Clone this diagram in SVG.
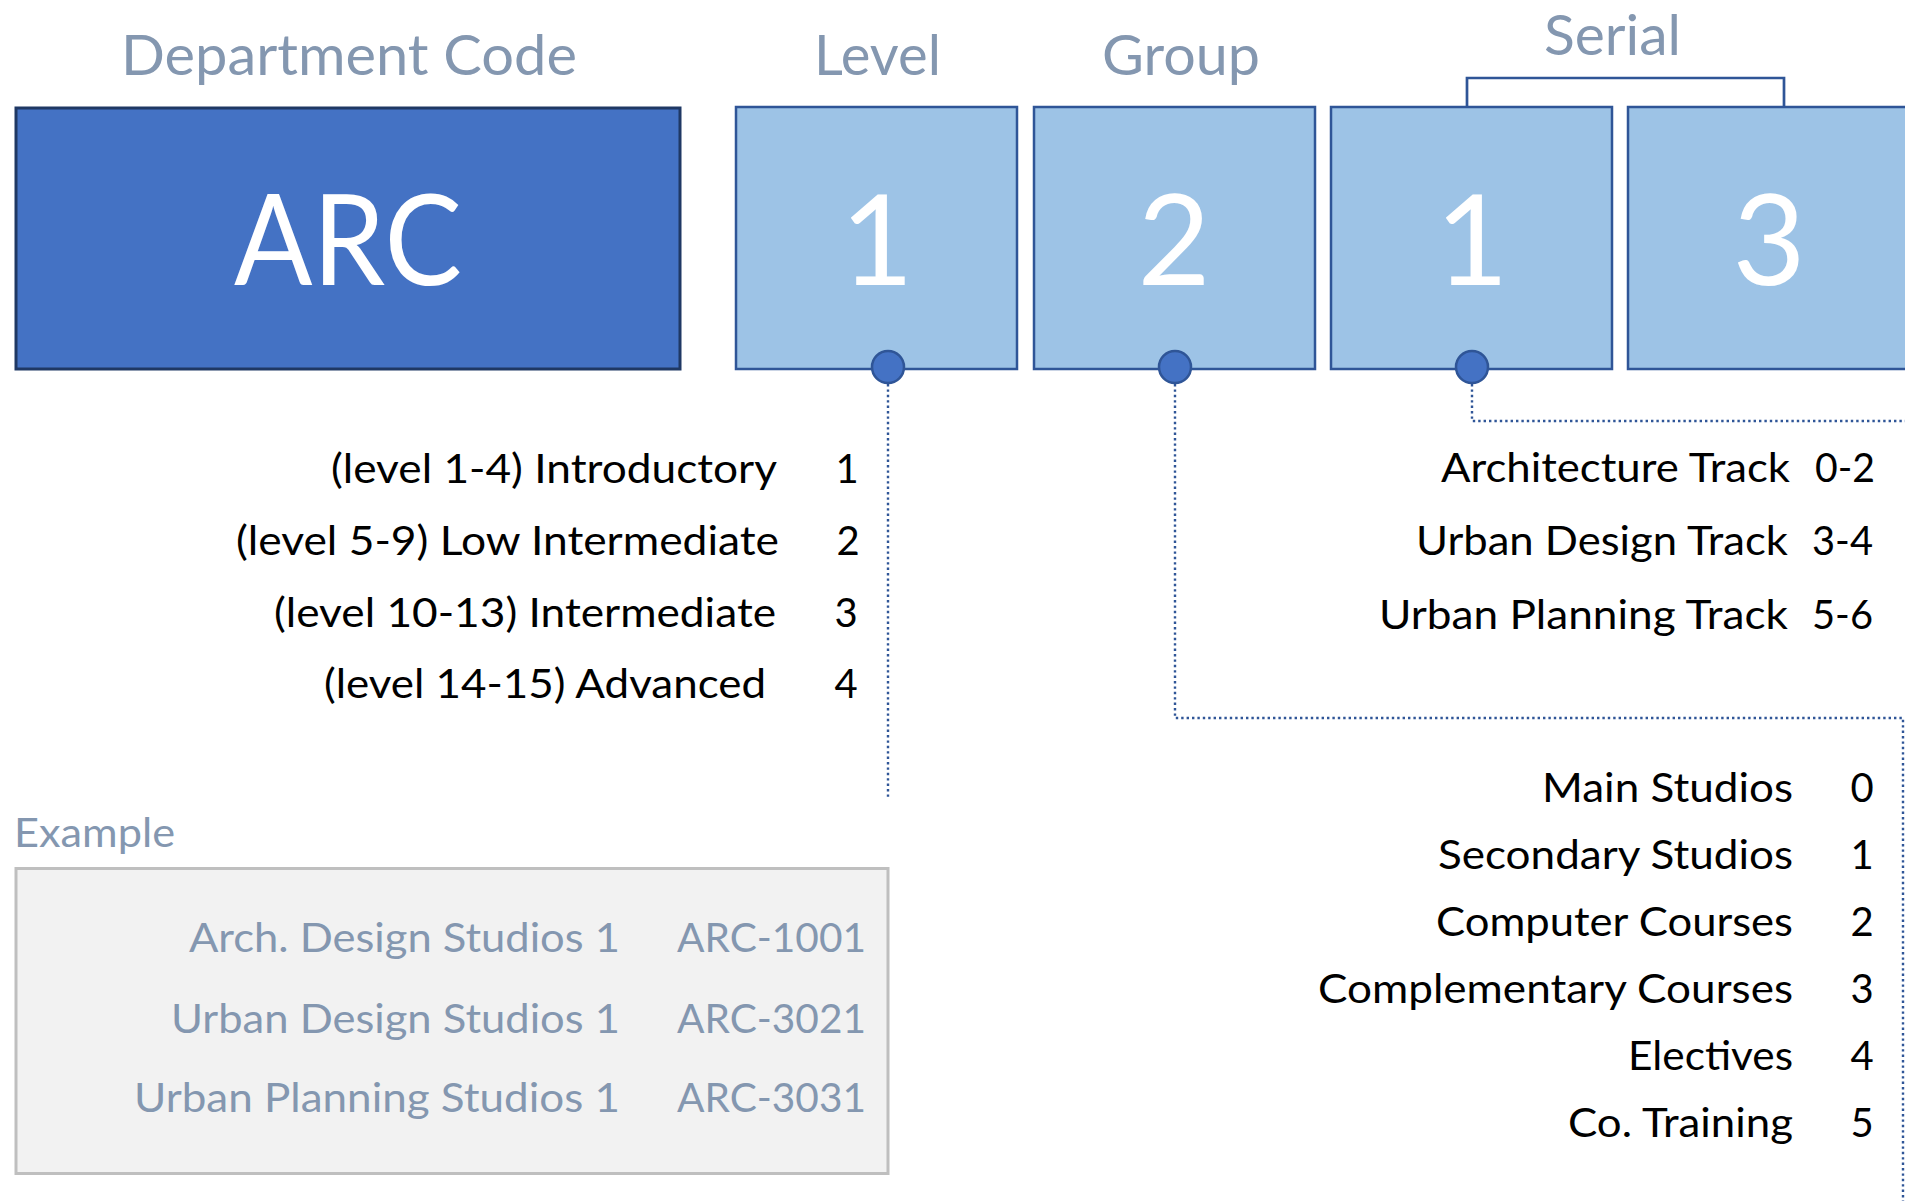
<svg xmlns="http://www.w3.org/2000/svg" width="1905" height="1201" viewBox="0 0 1905 1201">
<style>
  .hdr { font-family: Lato, "Open Sans", sans-serif; font-size: 56px; fill: #8497B0; }
  .big { font-family: Lato, "Open Sans", sans-serif; font-size: 126px; fill: #FFFFFF; }
  .item { font-family: Lato, "Open Sans", sans-serif; font-size: 40px; fill: #000000; }
  .ex { font-family: Lato, "Open Sans", sans-serif; font-size: 40px; fill: #8497B0; }
  .mid { text-anchor: middle; }
  .box { fill: #9DC3E6; stroke: #2F5597; stroke-width: 2.5; }
  .dot { fill: #4472C4; stroke: #2F5597; stroke-width: 2.5; }
  .dotted { fill: none; stroke: #2F5597; stroke-width: 2.4; stroke-dasharray: 2.4 3; }
  .bracket { fill: none; stroke: #2F5597; stroke-width: 2.7; }
</style>

<rect width="1905" height="1201" fill="#FFFFFF"/>

<!-- Connectors -->
<g id="connectors">
  <line class="dotted" x1="888" y1="384" x2="888" y2="798"/>
  <path class="dotted" d="M1175 384 V718 H1903 V1201"/>
  <path class="dotted" d="M1472 384 V421 H1905"/>
</g>

<!-- Department code -->
<g id="node-department">
  <text class="hdr" x="121" y="75" textLength="456" lengthAdjust="spacingAndGlyphs">Department Code</text>
  <rect x="16" y="108" width="664" height="261" fill="#4472C4" stroke="#1F3864" stroke-width="3"/>
  <text class="big" x="234" y="285" textLength="228" lengthAdjust="spacingAndGlyphs">ARC</text>
</g>

<!-- Level -->
<g id="node-level">
  <text class="hdr" x="814" y="75" textLength="127" lengthAdjust="spacingAndGlyphs">Level</text>
  <rect class="box" x="736" y="107" width="281" height="262"/>
  <text class="big mid" x="877" y="285">1</text>
  <circle class="dot" cx="888" cy="367" r="16"/>
</g>

<!-- Group -->
<g id="node-group">
  <text class="hdr" x="1102" y="75" textLength="158" lengthAdjust="spacingAndGlyphs">Group</text>
  <rect class="box" x="1034" y="107" width="281" height="262"/>
  <text class="big mid" x="1174" y="285">2</text>
  <circle class="dot" cx="1175" cy="367" r="16"/>
</g>

<!-- Serial -->
<g id="node-serial">
  <text class="hdr" x="1544" y="55" textLength="137" lengthAdjust="spacingAndGlyphs">Serial</text>
  <path class="bracket" d="M1467 107 V78 H1784 V107"/>
</g>
<g id="node-serial-1">
  <rect class="box" x="1331" y="107" width="281" height="262"/>
  <text class="big mid" x="1472" y="285">1</text>
  <circle class="dot" cx="1472" cy="367" r="16"/>
</g>
<g id="node-serial-2">
  <rect class="box" x="1628" y="107" width="281" height="262"/>
  <text class="big mid" x="1769" y="285">3</text>
</g>

<!-- Level list -->
<g id="level-list">
  <text class="item" x="331" y="483" textLength="446" lengthAdjust="spacingAndGlyphs">(level 1-4) Introductory</text>
  <text class="item mid" x="847" y="483">1</text>
  <text class="item" x="236" y="555" textLength="543" lengthAdjust="spacingAndGlyphs">(level 5-9) Low Intermediate</text>
  <text class="item mid" x="848" y="555">2</text>
  <text class="item" x="274" y="627" textLength="502" lengthAdjust="spacingAndGlyphs">(level 10-13) Intermediate</text>
  <text class="item mid" x="846" y="627">3</text>
  <text class="item" x="324" y="698" textLength="442" lengthAdjust="spacingAndGlyphs">(level 14-15) Advanced</text>
  <text class="item mid" x="846" y="698">4</text>
</g>

<!-- Track list -->
<g id="track-list">
  <text class="item" x="1441" y="482" textLength="349" lengthAdjust="spacingAndGlyphs">Architecture Track</text>
  <text class="item" x="1815" y="482" textLength="60" lengthAdjust="spacingAndGlyphs">0-2</text>
  <text class="item" x="1416" y="555" textLength="372" lengthAdjust="spacingAndGlyphs">Urban Design Track</text>
  <text class="item" x="1812" y="555" textLength="61" lengthAdjust="spacingAndGlyphs">3-4</text>
  <text class="item" x="1379" y="629" textLength="409" lengthAdjust="spacingAndGlyphs">Urban Planning Track</text>
  <text class="item" x="1812" y="629" textLength="61" lengthAdjust="spacingAndGlyphs">5-6</text>
</g>

<!-- Group list -->
<g id="group-list">
  <text class="item" x="1542" y="802" textLength="251" lengthAdjust="spacingAndGlyphs">Main Studios</text>
  <text class="item mid" x="1862" y="802">0</text>
  <text class="item" x="1438" y="869" textLength="355" lengthAdjust="spacingAndGlyphs">Secondary Studios</text>
  <text class="item mid" x="1862" y="869">1</text>
  <text class="item" x="1436" y="936" textLength="357" lengthAdjust="spacingAndGlyphs">Computer Courses</text>
  <text class="item mid" x="1862" y="936">2</text>
  <text class="item" x="1318" y="1003" textLength="475" lengthAdjust="spacingAndGlyphs">Complementary Courses</text>
  <text class="item mid" x="1862" y="1003">3</text>
  <text class="item" x="1628" y="1070" textLength="165" lengthAdjust="spacingAndGlyphs">Electives</text>
  <text class="item mid" x="1862" y="1070">4</text>
  <text class="item" x="1568" y="1137" textLength="225" lengthAdjust="spacingAndGlyphs">Co. Training</text>
  <text class="item mid" x="1862" y="1137">5</text>
</g>

<!-- Example -->
<g id="example">
  <text class="ex" x="14" y="847" textLength="161" lengthAdjust="spacingAndGlyphs">Example</text>
  <rect x="16" y="868.5" width="872" height="305" fill="#F2F2F2" stroke="#BFBFBF" stroke-width="3"/>
  <text class="ex" x="189" y="952" textLength="431" lengthAdjust="spacingAndGlyphs">Arch. Design Studios 1</text>
  <text class="ex" x="677" y="952" textLength="189" lengthAdjust="spacingAndGlyphs">ARC-1001</text>
  <text class="ex" x="171" y="1033" textLength="449" lengthAdjust="spacingAndGlyphs">Urban Design Studios 1</text>
  <text class="ex" x="677" y="1033" textLength="189" lengthAdjust="spacingAndGlyphs">ARC-3021</text>
  <text class="ex" x="134" y="1112" textLength="486" lengthAdjust="spacingAndGlyphs">Urban Planning Studios 1</text>
  <text class="ex" x="677" y="1112" textLength="189" lengthAdjust="spacingAndGlyphs">ARC-3031</text>
</g>
</svg>
